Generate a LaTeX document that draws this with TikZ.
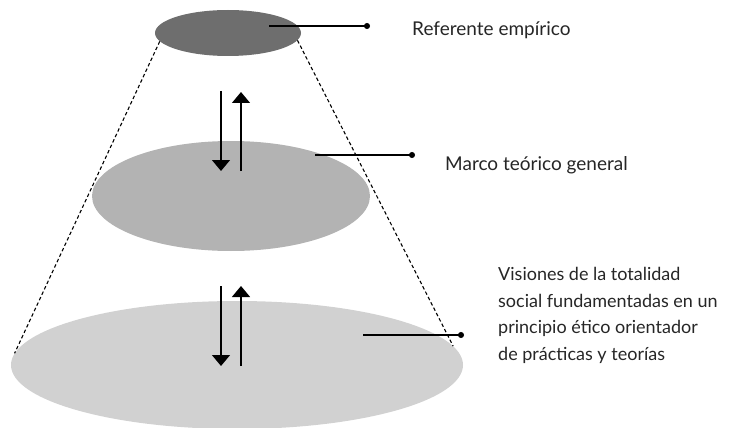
\documentclass[tikz,border=0pt]{standalone}
\usepackage{fontspec}
\setmainfont{Lato}
\usetikzlibrary{shapes.geometric, arrows.meta}

\definecolor{oscuro}{RGB}{110,110,110}
\definecolor{medio}{RGB}{179,179,179}
\definecolor{claro}{RGB}{209,209,209}

\begin{document}
\begin{tikzpicture}[x=1pt, y=-1pt,
    disco/.style={ellipse, draw=none, inner sep=0pt},
    flecha/.style={line width=1.4pt, -{Triangle[width=18pt,length=11pt]}},
    guia/.style={line width=1.3pt, -{Circle[length=6pt]}},
    cono/.style={line width=1.1pt, dash pattern=on 3.5pt off 2.5pt},
    rotulo/.style={font=\fontsize{19}{26.7}\selectfont, inner sep=0pt, text=black!85}]
  \useasboundingbox (0,0) rectangle (729,428);

  % los tres niveles
  \node[disco, fill=claro, minimum width=452, minimum height=128] (C) at (237,365) {};
  \node[disco, fill=medio, minimum width=278, minimum height=110] (B) at (231,196) {};
  \node[disco, fill=oscuro, minimum width=146, minimum height=46] (A) at (228,33) {};

  \draw[cono] (A.187) -- (C.177);
  \draw[cono] (A.354) -- (C.5);

  \coordinate (p1) at (221,91);
  \coordinate (p2) at (221,171);
  \coordinate (q1) at (241,171);
  \coordinate (q2) at (241,92);
  \coordinate (p3) at (221,286);
  \coordinate (p4) at (221,366);
  \coordinate (q3) at (241,366);
  \coordinate (q4) at (241,286);

  \draw[flecha] (p1) -- (p2);
  \draw[flecha] (q1) -- (q2);
  \draw[flecha] (p3) -- (p4);
  \draw[flecha] (q3) -- (q4);

  \coordinate (a) at (269,26);
  \coordinate (aa) at (370,26);
  \coordinate (b) at (315,155);
  \coordinate (bb) at (415,155);
  \coordinate (c) at (363,335);
  \coordinate (cc) at (464,335);

  \draw[guia] (a) -- (aa);
  \draw[guia] (b) -- (bb);
  \draw[guia] (c) -- (cc);

  \node[rotulo, anchor=base west] (ta) at (412,36) {Referente empírico};
  \node[rotulo, anchor=base west] (tb) at (445,170) {Marco teórico general};
  \node[rotulo, font=\fontsize{18}{26.7}\selectfont, anchor=north west, align=left] (tc) at (498,267)
    {Visiones de la totalidad\\social fundamentadas en un\\principio ético orientador\\de prácticas y teorías};
\end{tikzpicture}
\end{document}
